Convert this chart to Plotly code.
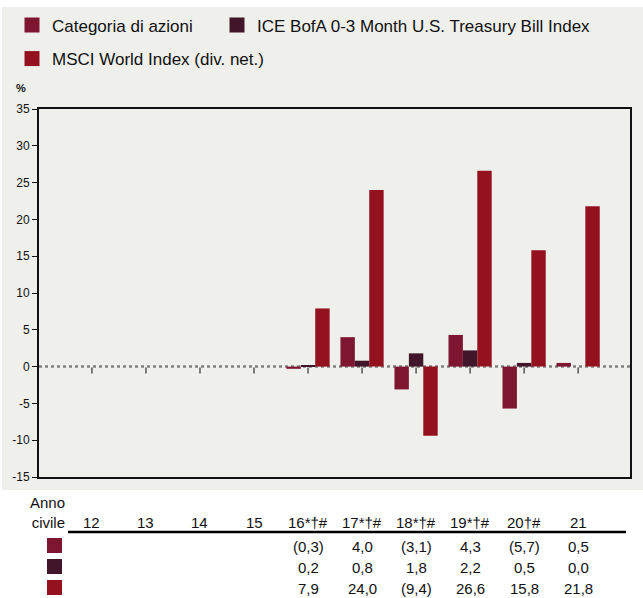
import plotly.graph_objects as go

# ---------------- data ----------------
years = ["12", "13", "14", "15", "16", "17", "18", "19", "20", "21"]
year_labels = ["12", "13", "14", "15", "16*†#", "17*†#", "18*†#", "19*†#", "20†#", "21"]
categoria = [None, None, None, None, -0.3, 4.0, -3.1, 4.3, -5.7, 0.5]
ice_bofa = [None, None, None, None, 0.2, 0.8, 1.8, 2.2, 0.5, 0.0]
msci = [None, None, None, None, 7.9, 24.0, -9.4, 26.6, 15.8, 21.8]

series_names = ["Categoria di azioni",
                "ICE BofA 0-3 Month U.S. Treasury Bill Index",
                "MSCI World Index (div. net.)"]
series_values = [categoria, ice_bofa, msci]
colors = ["#7E1631", "#42162A", "#94121F"]

y_ticks = [-15, -10, -5, 0, 5, 10, 15, 20, 25, 30, 35]

FONT = "Liberation Sans Narrow, Arial Narrow, Liberation Sans, Arial, sans-serif"
W, H = 643, 598
L, R, T, B = 39, 13, 109, 121
PW, PH = W - L - R, H - T - B


def px(xp):
    return (xp - L) / PW


def py(yp):
    return (H - B - yp) / PH


def fmt(v):
    if v is None:
        return ""
    s = f"{abs(v):.1f}".replace(".", ",")
    return f"({s})" if v < 0 else s


xpos = list(range(len(years)))

fig = go.Figure()

for name, vals, col in zip(series_names, series_values, colors):
    fig.add_trace(go.Bar(x=xpos, y=vals, name=name, marker_color=col,
                         marker_line_width=0, showlegend=False))
# legend entries (square swatches), one legend box per entry
legend_ids = ["legend", "legend2", "legend3"]
for lid, name, col in zip(legend_ids, series_names, colors):
    fig.add_trace(go.Scatter(x=[None], y=[None], mode="markers", name=name,
                             legend=lid,
                             marker=dict(symbol="square", size=15, color=col)))

shapes = []
# grey panel behind chart + legend
shapes.append(dict(type="rect", xref="paper", yref="paper", layer="below",
                   x0=px(2), x1=px(643), y0=py(490), y1=py(7),
                   fillcolor="#EFEFEB", line_width=0))
# dotted zero line
shapes.append(dict(type="line", xref="paper", yref="y", layer="below",
                   x0=0, x1=1, y0=0, y1=0,
                   line=dict(color="#808080", width=2.5, dash="dot")))
# small ticks under zero line at each category
for xp in xpos:
    shapes.append(dict(type="line", xref="x", yref="y", ysizemode="pixel",
                       yanchor=0, x0=xp, x1=xp, y0=-1, y1=-7,
                       line=dict(color="#555555", width=1.5)))
# table header rule
shapes.append(dict(type="line", xref="paper", yref="paper",
                   x0=px(68), x1=px(626), y0=py(532), y1=py(532),
                   line=dict(color="black", width=2.5)))

TFONT = dict(family=FONT, size=15, color="#111")
row_y = [545.5, 566.5, 587.5]
annotations = []
for ry, col, vals in zip(row_y, colors, series_values):
    shapes.append(dict(type="rect", xref="paper", yref="paper",
                       x0=px(47), x1=px(62), y0=py(ry + 7.5), y1=py(ry - 7.5),
                       fillcolor=col, line_width=0))
    for xp, v in zip(xpos, vals):
        if v is None:
            continue
        annotations.append(dict(x=xp, y=py(ry + 1), xref="x", yref="paper",
                                text=fmt(v), showarrow=False, xanchor="center",
                                yanchor="middle", font=TFONT))

for xp, lab in zip(xpos, year_labels):
    annotations.append(dict(x=xp, y=py(522), xref="x", yref="paper", text=lab,
                            showarrow=False, xanchor="center", yanchor="middle",
                            font=TFONT))

annotations.append(dict(x=px(67), y=py(512.5), xref="paper", yref="paper",
                        text="Anno<br>civile", showarrow=False, xanchor="right",
                        yanchor="middle", align="right", font=TFONT))
annotations.append(dict(x=px(14), y=py(88), xref="paper", yref="paper",
                        text="<b>%</b>", showarrow=False, xanchor="left",
                        yanchor="middle",
                        font=dict(family=FONT, size=11, color="#111")))

LFONT = dict(family=FONT, size=17, color="#111")


def leg(xp, yp):
    return dict(orientation="h", x=px(xp), xanchor="left", y=py(yp),
                yanchor="top", font=LFONT, bgcolor="rgba(0,0,0,0)")


fig.update_layout(
    width=W, height=H,
    margin=dict(l=L, r=R, t=T, b=B, pad=0, autoexpand=False),
    paper_bgcolor="white", plot_bgcolor="rgba(0,0,0,0)",
    barmode="group", bargap=0.2, bargroupgap=0,
    font=dict(family=FONT, color="#111"),
    showlegend=True,
    legend=leg(12, 7.5),
    legend2=leg(217, 7.5),
    legend3=leg(12, 41),
    shapes=shapes, annotations=annotations,
)
fig.update_xaxes(range=[-0.98, 9.96], showticklabels=False,
                 ticks="", showgrid=False, zeroline=False, showline=True,
                 mirror=True, linecolor="#111", linewidth=2)
fig.update_yaxes(range=[-15, 35], tickvals=y_ticks,
                 ticktext=[str(v) for v in y_ticks],
                 ticks="outside", ticklen=5,
                 tickcolor="#111", tickwidth=1, showgrid=False, zeroline=False,
                 showline=True, mirror=True, linecolor="#111", linewidth=2,
                 tickfont=dict(family=FONT, size=12, color="#111"))

fig.write_html("out.html",
               config={"displayModeBar": False},
               post_script="document.body.style.margin='0';"
                           "document.body.style.padding='0';"
                           "document.body.style.overflow='hidden';")
